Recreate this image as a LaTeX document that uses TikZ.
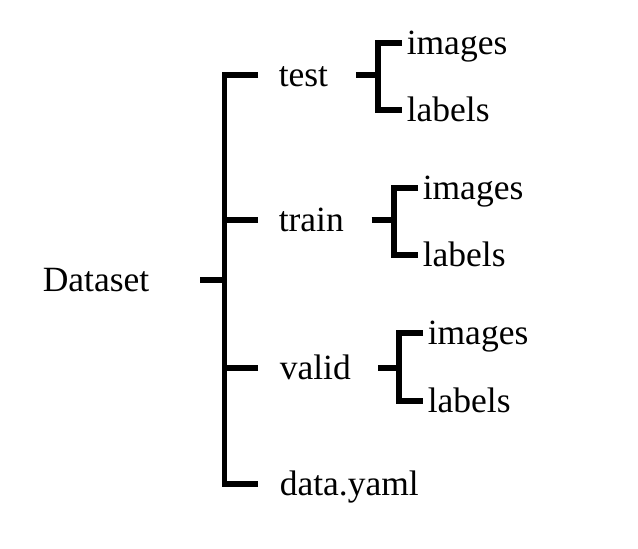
\documentclass[tikz,border=0pt]{standalone}
\usepackage{fontspec}
\setmainfont{Liberation Serif}
\usetikzlibrary{positioning}
\begin{document}
\begin{tikzpicture}[x=1pt, y=-1pt, line width=5.5pt, line join=miter, line cap=butt,
  every node/.style={font=\fontsize{35.5}{40}\selectfont, inner sep=0pt, anchor=west,
    text height=22pt, text depth=0pt}]
  \useasboundingbox (0,0) rectangle (638,549);
  % la raiz y las carpetas
  \node (ds) at (40,280) {Dataset};
  \node (test) at (276,75) {test};
  \node (train) at (276,220) {train};
  \node (valid) at (277,368) {valid};
  \node (yaml) at (277,484) {data.yaml};
  % la llave grande
  \coordinate (s0) at (200,280);
  \coordinate (s1) at (224.5,280);
  \draw (s0) -- (s1);
  \draw ([xshift=-18pt]test.west) -- (test.west -| s1) -- (yaml.west -| s1) -- ([xshift=-19pt]yaml.west);
  \draw ([xshift=-18pt]train.west) -- (train.west -| s1);
  \draw ([xshift=-19pt]valid.west) -- (valid.west -| s1);
  % las llaves chicas
  \foreach \f/\xs/\ya/\yb in {test/404/43/110, train/420/188/255, valid/425/333/401} {
    \node (\f-img) at (\xs,\ya) {images};
    \node (\f-lab) at (\xs,\yb) {labels};
    \coordinate (\f-sp) at ([xshift=-26pt]\f-img.west);
    \draw ([xshift=25pt]\f.east) -- (\f.east -| \f-sp);
    \draw ([xshift=-2pt]\f-img.west) -- (\f-sp) -- (\f-lab.west -| \f-sp) -- ([xshift=-2pt]\f-lab.west);
  }
\end{tikzpicture}
\end{document}
